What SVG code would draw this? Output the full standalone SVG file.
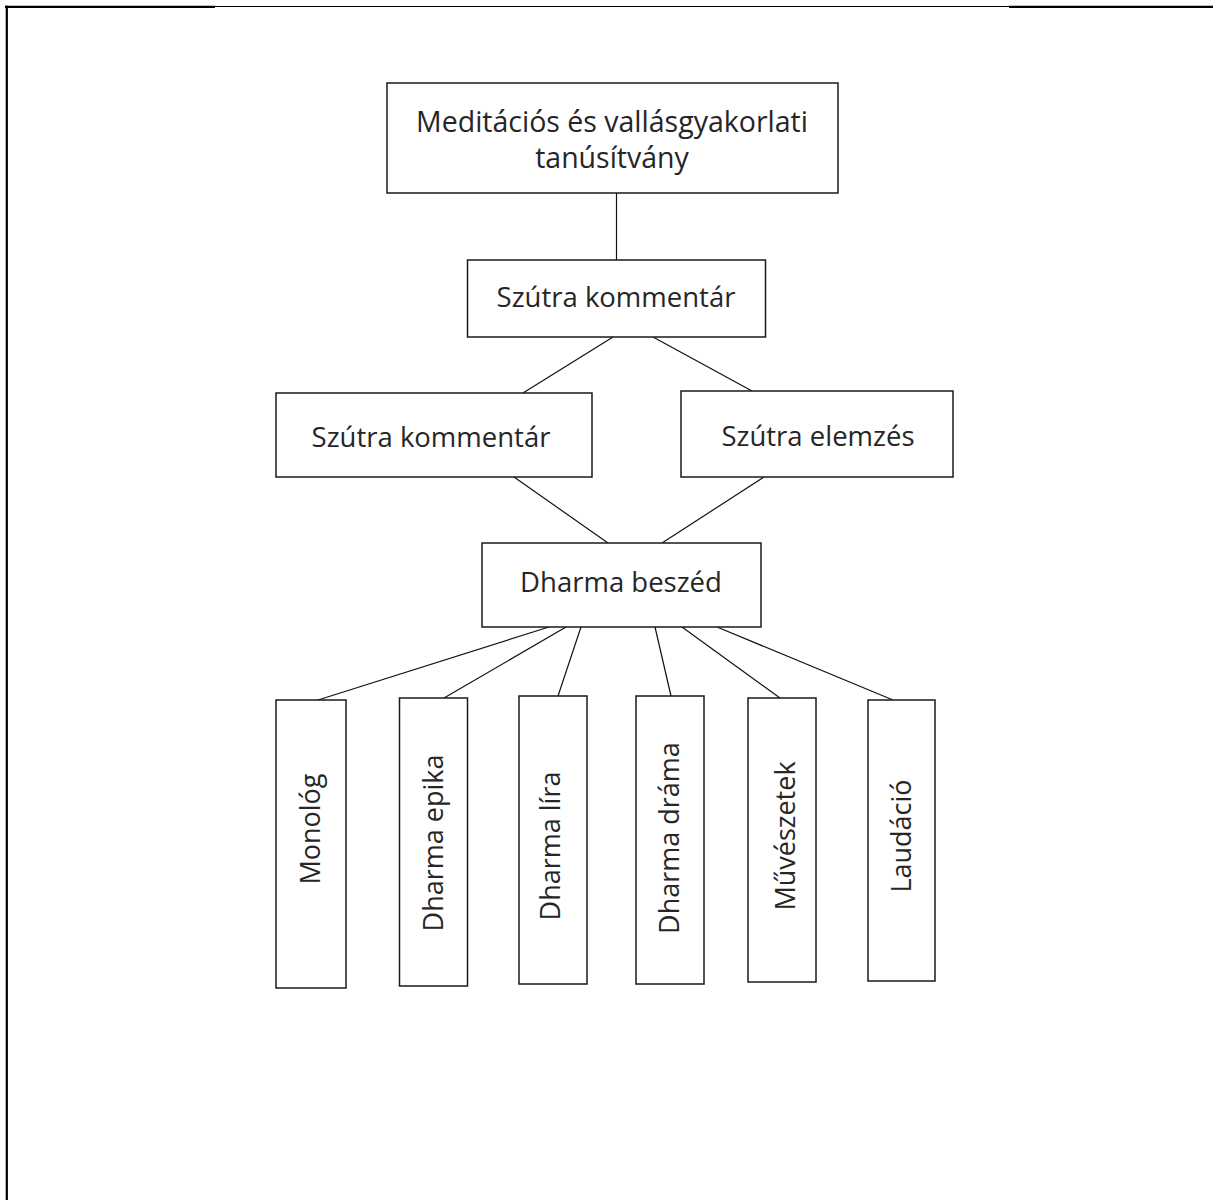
<svg xmlns="http://www.w3.org/2000/svg" width="1213" height="1200" viewBox="0 0 1213 1200">
<style>
.box{fill:#fff;stroke:#1a1a1a;stroke-width:1.5}
.lbl{font-family:"Open Sans","Noto Sans",sans-serif;font-size:27.5px;fill:#262626;text-anchor:middle}
.vl{font-family:"Open Sans","Noto Sans",sans-serif;font-size:27px;fill:#262626;text-anchor:middle;dominant-baseline:central}
.con line{stroke:#111;stroke-width:1.2}
.frame{stroke:#000;fill:none}
</style>
<rect width="1213" height="1200" fill="#fff"/>
<g id="frame">
<line class="frame" x1="5" y1="6.8" x2="215" y2="6.8" stroke-width="2.2"/>
<line class="frame" x1="215" y1="6.5" x2="1009" y2="6.5" stroke-width="1.2"/>
<line class="frame" x1="1009" y1="6.8" x2="1213" y2="6.8" stroke-width="2.2"/>
<line class="frame" x1="6.8" y1="5.8" x2="6.8" y2="1200" stroke-width="2.2"/>
</g>
<g id="connectors" class="con">
<line x1="616.5" y1="193" x2="616.5" y2="260"/>
<line x1="613" y1="337" x2="523" y2="393"/>
<line x1="653" y1="337" x2="752" y2="391"/>
<line x1="514" y1="477" x2="608" y2="543"/>
<line x1="764" y1="477" x2="662" y2="543"/>
<line x1="549" y1="627" x2="318" y2="700"/>
<line x1="566" y1="627" x2="444" y2="698"/>
<line x1="581" y1="627" x2="558" y2="696"/>
<line x1="655" y1="627" x2="671" y2="696"/>
<line x1="682" y1="627" x2="780" y2="698"/>
<line x1="717" y1="627" x2="893" y2="700"/>
</g>
<g id="n-top">
<rect class="box" x="387" y="83" width="451" height="110"/>
<text class="lbl" x="612" y="132" style="font-size:28.5px">Meditációs és vallásgyakorlati</text>
<text class="lbl" x="612" y="168" style="font-size:28.5px">tanúsítvány</text>
</g>
<g id="n-kommentar1">
<rect class="box" x="467.5" y="260" width="298" height="77"/>
<text class="lbl" x="616" y="307">Szútra kommentár</text>
</g>
<g id="n-kommentar2">
<rect class="box" x="276" y="393" width="316" height="84"/>
<text class="lbl" x="431" y="447">Szútra kommentár</text>
</g>
<g id="n-elemzes">
<rect class="box" x="681" y="391" width="272" height="86"/>
<text class="lbl" x="818" y="446">Szútra elemzés</text>
</g>
<g id="n-dharma">
<rect class="box" x="482" y="543" width="279" height="84"/>
<text class="lbl" x="621" y="592">Dharma beszéd</text>
</g>
<g id="n-monolog">
<rect class="box" x="276" y="700" width="70" height="288"/>
<text class="vl" transform="rotate(-90 309 829)" x="309" y="829">Monológ</text>
</g>
<g id="n-epika">
<rect class="box" x="399.5" y="698" width="68" height="288"/>
<text class="vl" transform="rotate(-90 432 843)" x="432" y="843">Dharma epika</text>
</g>
<g id="n-lira">
<rect class="box" x="519" y="696" width="68" height="288"/>
<text class="vl" transform="rotate(-90 549 846)" x="549" y="846">Dharma líra</text>
</g>
<g id="n-drama">
<rect class="box" x="636" y="696" width="68" height="288"/>
<text class="vl" transform="rotate(-90 668 838)" x="668" y="838">Dharma dráma</text>
</g>
<g id="n-muveszetek">
<rect class="box" x="748" y="698" width="68" height="284"/>
<text class="vl" transform="rotate(-90 784 836)" x="784" y="836">Művészetek</text>
</g>
<g id="n-laudacio">
<rect class="box" x="868" y="700" width="67" height="281"/>
<text class="vl" transform="rotate(-90 900 836)" x="900" y="836">Laudáció</text>
</g>
</svg>
